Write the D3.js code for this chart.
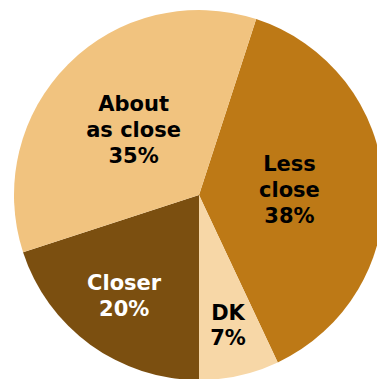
<!DOCTYPE html>
<html>
<head>
<meta charset="utf-8">
<script src="https://cdn.jsdelivr.net/npm/d3@7"></script>
<style>
  html, body { margin: 0; padding: 0; background: #fff; }
  svg { display: block; }
</style>
</head>
<body>
<svg id="chart" width="377" height="379"></svg>
<script>
// Survey answers, in clockwise order starting just right of 12 o'clock
const categories = ["Less close", "DK", "Closer", "About as close"];
const labelLines = [["Less", "close"], ["DK"], ["Closer"], ["About", "as close"]];
const values = [38, 7, 20, 35];

const colors = ["#BD7916", "#F7D7A7", "#7B4F10", "#F1C37F"];
const textColors = ["#000", "#000", "#fff", "#000"];
// distance of each label block from the centre (fraction of radius)
const labelRadiusFrac = [0.49, 0.72, 0.67, 0.50];

const svg = d3.select("#chart");
const cx = 199, cy = 195, radius = 185;
const g = svg.append("g").attr("transform", `translate(${cx},${cy})`);

const startAngle = 18 * Math.PI / 180;
const pie = d3.pie().sort(null).value(d => d.value)
  .startAngle(startAngle).endAngle(startAngle + 2 * Math.PI);

const data = categories.map((c, i) => ({ name: c, value: values[i], i }));
const arcs = pie(data);
const arc = d3.arc().innerRadius(0).outerRadius(radius);

g.selectAll("path.slice").data(arcs).enter().append("path")
  .attr("class", "slice")
  .attr("d", arc)
  .attr("fill", d => colors[d.data.i]);

const fontSize = 21, lineH = 25.7;
arcs.forEach(a => {
  const i = a.data.i;
  const r = radius * labelRadiusFrac[i];
  const lab = d3.arc().innerRadius(r).outerRadius(r);
  let [x, y] = lab.centroid(a);
  if (i === 2) x -= 2;
  const lines = labelLines[i].concat([a.data.value + "%"]);
  const t = g.append("text")
    .attr("text-anchor", "middle")
    .attr("font-family", "DejaVu Sans, Verdana, sans-serif")
    .attr("font-weight", "bold")
    .attr("font-size", fontSize)
    .attr("fill", textColors[i]);
  const top = y - (lines.length - 1) * lineH / 2 + fontSize * 0.36;
  lines.forEach((s, k) => {
    t.append("tspan").attr("x", x).attr("y", top + k * lineH).text(s);
  });
});
</script>
</body>
</html>
